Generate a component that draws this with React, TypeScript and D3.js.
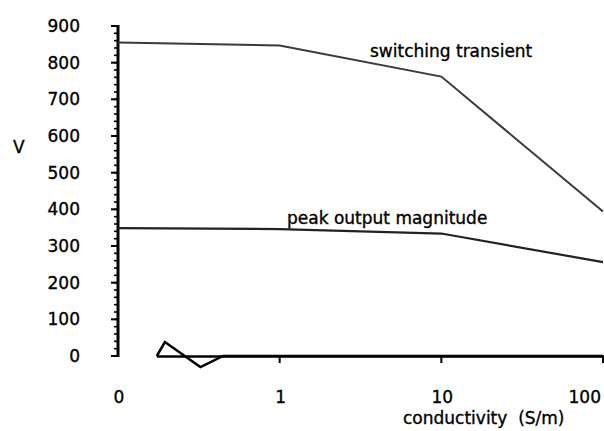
import React from "react";
import * as d3 from "d3";

// Conductivity decades, placed evenly along the x axis
const xTickLabels = ["0", "1", "10", "100"];
const xTickIndex = [0, 1, 2, 3];

// Voltage (V) at each decade
const switchingTransient = [855, 847, 762, 394];
const peakOutput = [349, 346, 334, 256];

// Near-zero trace that runs along the baseline
const zeroTraceX = [0.24, 0.29, 0.51, 0.65, 3];
const zeroTraceY = [0, 38, -30, 0, 0];

const yMajorTicks = [0, 100, 200, 300, 400, 500, 600, 700, 800, 900];
const yMinorTicks = d3.range(0, 901, 20);

const W = 604;
const H = 431;
const FONT = "'DejaVu Sans', sans-serif";

export default function App() {
  const x = d3.scaleLinear().domain([0, 3]).range([118, 603]);
  const y = d3.scaleLinear().domain([0, 900]).range([356, 26]);

  const line = d3
    .line<[number, number]>()
    .x((d) => x(d[0]))
    .y((d) => y(d[1]));

  const switchPts = xTickIndex.map((i, k) => [i, switchingTransient[k]] as [number, number]);
  const peakPts = xTickIndex.map((i, k) => [i, peakOutput[k]] as [number, number]);
  const zeroPts = zeroTraceX.map((v, k) => [v, zeroTraceY[k]] as [number, number]);

  const textStyle = { fill: "#000", stroke: "#000", strokeWidth: 0.35 };

  return (
    <svg
      width={W}
      height={H}
      style={{ position: "absolute", left: 0, top: 0, background: "#fff" }}
      fontFamily={FONT}
      fontSize={17}
    >
      <rect width={W} height={H} fill="#fff" />

      {/* y axis */}
      <line x1={x(0)} x2={x(0)} y1={y(900) - 1} y2={y(0) + 1} stroke="#000" strokeWidth={3} />
      {yMinorTicks.map((t) => (
        <line key={"m" + t} x1={x(0) - 4} x2={x(0)} y1={y(t)} y2={y(t)} stroke="#000" strokeWidth={1.6} />
      ))}
      {yMajorTicks.map((t) => (
        <line key={"M" + t} x1={x(0) - 7} x2={x(0)} y1={y(t)} y2={y(t)} stroke="#000" strokeWidth={2} />
      ))}
      {yMajorTicks.map((t) => (
        <text key={"l" + t} x={80} y={y(t) + 6} textAnchor="end" {...textStyle}>
          {t}
        </text>
      ))}
      <text x={13} y={153} {...textStyle}>V</text>

      {/* x axis baseline and ticks */}
      <line
        x1={x(zeroTraceX[0])}
        x2={x(3) + 1}
        y1={y(0) + 0.5}
        y2={y(0) + 0.5}
        stroke="#000"
        strokeWidth={2.5}
      />
      {xTickIndex.slice(1).map((i) => (
        <line key={"xt" + i} x1={x(i)} x2={x(i)} y1={y(0)} y2={y(0) + 7} stroke="#000" strokeWidth={2} />
      ))}
      {xTickIndex.map((i, k) => {
        const last = k === xTickIndex.length - 1;
        return (
          <text
            key={"xl" + i}
            x={last ? x(i) - 2 : x(i) + 1}
            y={403}
            textAnchor={last ? "end" : "middle"}
            {...textStyle}
          >
            {xTickLabels[k]}
          </text>
        );
      })}
      <text x={403} y={424} style={{ whiteSpace: "pre" }} {...textStyle}>
        {"conductivity  (S/m)"}
      </text>

      {/* series */}
      <path d={line(zeroPts) ?? ""} fill="none" stroke="#000" strokeWidth={2.5} strokeLinejoin="miter" />
      <path d={line(switchPts) ?? ""} fill="none" stroke="#3a3a3a" strokeWidth={2} />
      <path d={line(peakPts) ?? ""} fill="none" stroke="#222" strokeWidth={2.2} />

      {/* series labels */}
      <text x={370} y={57} {...textStyle}>switching transient</text>
      <text x={287} y={224} {...textStyle}>peak output magnitude</text>
    </svg>
  );
}
